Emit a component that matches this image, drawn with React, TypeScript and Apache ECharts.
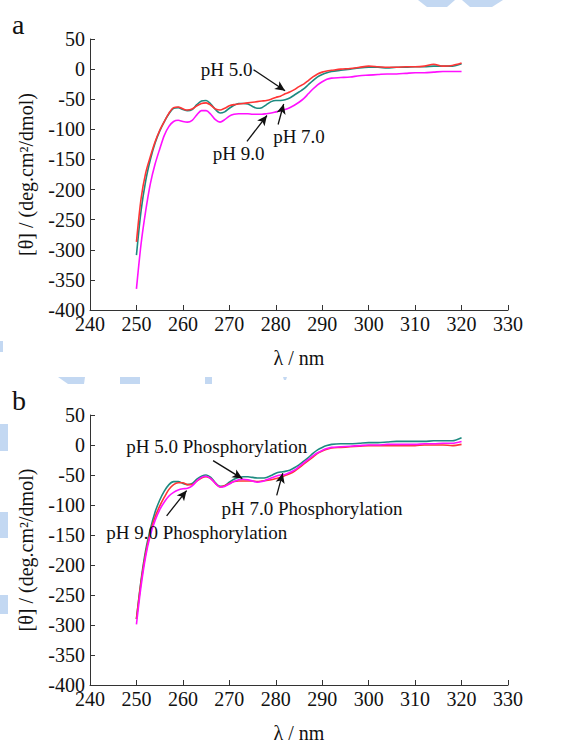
import React, { useEffect, useRef } from "react";
import * as echarts from "echarts";

const wavelengths = [
  250, 251, 252, 253, 254, 255, 256, 257, 258, 259, 260, 261, 262, 263, 264, 265, 266, 267, 268, 269, 270,
  271, 272, 273, 274, 275, 276, 277, 278, 279, 280, 281, 282, 283, 284, 285, 286, 287, 288, 289, 290, 291, 292,
  294, 296, 298, 300, 302, 304, 306, 308, 310, 312, 314, 316, 318, 320,
];

// Panel a
const aPH5 = [
  -287, -215, -172, -145, -121, -102, -87, -73, -64, -63, -66, -68, -66, -61, -57, -56, -60, -66, -68, -65, -61,
  -59, -58, -57, -56, -55, -54, -53, -52, -50, -47, -45, -41, -38, -34, -29, -25, -19, -13, -8, -5, -3, -2,
  0, 1, 3, 5, 4, 3, 3, 4, 4, 5, 8, 5, 6, 10,
];
const aPH7 = [
  -309, -235, -185, -150, -123, -103, -87, -74, -65, -64, -67, -69, -67, -59, -53, -52, -58, -67, -73, -71, -65,
  -60, -57, -57, -58, -62, -65, -64, -59, -54, -52, -52, -51, -48, -43, -38, -33, -26, -19, -13, -9, -6, -4,
  -2, 0, 2, 3, 3, 2, 3, 3, 4, 4, 5, 5, 5, 9,
];
const aPH9 = [
  -365, -290, -235, -190, -158, -133, -110, -95, -87, -85, -87, -88, -85, -76, -69, -69, -75, -84, -88, -84, -78,
  -75, -74, -74, -74, -75, -75, -75, -74, -73, -71, -69, -67, -64, -60, -55, -49, -41, -33, -26, -21, -17, -15,
  -14, -13, -11, -10, -9, -8, -8, -7, -6, -6, -5, -4, -4, -4,
];

// Panel b
const bPH5 = [
  -290, -228, -180, -145, -120, -102, -87, -74, -66, -63, -63, -66, -66, -60, -55, -53, -56, -64, -70, -68, -64,
  -61, -60, -60, -60, -60, -61, -60, -59, -58, -56, -54, -51, -48, -44, -38, -32, -26, -20, -14, -10, -7, -5,
  -4, -3, -2, -1, -1, -1, -1, -1, -1, 0, 0, 0, -1, 1,
];
const bPH7 = [
  -290, -225, -175, -140, -112, -92, -77, -66, -61, -61, -64, -66, -64, -57, -52, -50, -54, -63, -69, -68, -62,
  -57, -54, -53, -53, -54, -55, -55, -54, -51, -47, -45, -44, -42, -38, -33, -27, -21, -14, -8, -4, -1, 1,
  2, 2, 3, 4, 4, 5, 6, 6, 6, 6, 7, 7, 7, 12,
];
const bPH9 = [
  -299, -235, -185, -150, -126, -108, -95, -85, -79, -75, -73, -72, -68, -60, -54, -52, -56, -64, -70, -69, -65,
  -61, -58, -57, -58, -60, -62, -61, -58, -55, -52, -50, -49, -46, -42, -36, -30, -24, -18, -13, -9, -6, -4,
  -3, -2, -1, 0, 0, 1, 1, 1, 1, 2, 2, 3, 3, 6,
];

const xTicks = { min: 240, max: 330, interval: 10 };
const yTicks = { min: -400, max: 50, interval: 50 };

// annotations: [text, textX, textY, arrowFromX, arrowFromY, arrowToX, arrowToY]
const aNotes: [string, number, number, number, number, number, number][] = [
  ["pH 5.0", 269.4, -1, 275.2, -1, 282.0, -36],
  ["pH 7.0", 285.0, -112, 280.5, -92, 281.7, -58],
  ["pH 9.0", 272.0, -140, 273.8, -120, 278.1, -77],
];
const bNotes: [string, number, number, number, number, number, number][] = [
  ["pH 5.0 Phosphorylation", 267.3, -2, 266.5, -26, 272.8, -56],
  ["pH 7.0 Phosphorylation", 287.8, -105, 280.2, -84, 281.5, -47],
  ["pH 9.0 Phosphorylation", 263.0, -145, 256.5, -118, 260.8, -76],
];

const FONT = "Liberation Serif";
const RED = "#ff3535";
const TEAL = "#1d8a80";
const MAGENTA = "#ff10ff";
const WM = "#c3d8f2";

export default function App() {
  const ref = useRef<HTMLDivElement>(null);
  useEffect(() => {
    if (!ref.current) return;
    const chart = echarts.init(ref.current, undefined, { renderer: "svg" });

    const grids = [
      { left: 90, top: 39, width: 418, height: 271 },
      { left: 90, top: 415, width: 418, height: 271 },
    ];

    const xAxes = grids.map((_, i) => ({
      type: "value",
      gridIndex: i,
      ...xTicks,
      name: "λ / nm",
      nameLocation: "middle",
      nameGap: 38,
      nameTextStyle: { fontFamily: FONT, fontSize: 20, color: "#111" },
      axisLine: { show: true, onZero: false, lineStyle: { color: "#333", width: 1 } },
      axisTick: { show: true, inside: true, length: 5, lineStyle: { color: "#333" } },
      axisLabel: { fontFamily: FONT, fontSize: 20, color: "#111", margin: 4 },
      splitLine: { show: false },
    }));
    const yAxes = grids.map((_, i) => ({
      type: "value",
      gridIndex: i,
      ...yTicks,
      name: "[θ] / (deg.cm²/dmol)",
      nameLocation: "middle",
      nameGap: 54,
      nameTextStyle: { fontFamily: FONT, fontSize: 20, color: "#111" },
      axisLine: { show: true, onZero: false, lineStyle: { color: "#333", width: 1 } },
      axisTick: { show: true, inside: true, length: 5, lineStyle: { color: "#333" } },
      axisLabel: { fontFamily: FONT, fontSize: 20, color: "#111", margin: 5 },
      splitLine: { show: false },
    }));

    const mk = (vals: number[]) => wavelengths.map((w, i) => [w, vals[i]]);

    const noteParts = (notes: typeof aNotes) => ({
      markLine: {
        silent: true,
        symbol: ["none", "arrow"],
        symbolSize: [7, 10],
        lineStyle: { color: "#111", width: 1.3, type: "solid" },
        label: { show: false },
        data: notes.map((n) => [{ coord: [n[3], n[4]] }, { coord: [n[5], n[6]] }]),
      },
      markPoint: {
        silent: true,
        symbol: "circle",
        symbolSize: 1,
        itemStyle: { color: "rgba(0,0,0,0)" },
        label: {
          show: true,
          position: "inside",
          fontFamily: FONT,
          fontSize: 19,
          color: "#111",
          formatter: (p: any) => p.name,
        },
        data: notes.map((n) => ({ name: n[0], coord: [n[1], n[2]] })),
      },
    });

    const line = (name: string, vals: number[], color: string, gi: number, extra: any = {}) => ({
      type: "line",
      name,
      xAxisIndex: gi,
      yAxisIndex: gi,
      data: mk(vals),
      showSymbol: false,
      smooth: 0.3,
      lineStyle: { color, width: 1.6 },
      itemStyle: { color },
      z: 2,
      ...extra,
    });

    const wmPoly = (points: number[][]) => ({
      type: "polygon",
      shape: { points },
      style: { fill: WM },
      silent: true,
      z: -10,
    });

    chart.setOption({
      animation: false,
      backgroundColor: "#fff",
      grid: grids,
      xAxis: xAxes,
      yAxis: yAxes,
      series: [
        line("pH 7.0", aPH7, TEAL, 0),
        line("pH 5.0", aPH5, RED, 0),
        line("pH 9.0", aPH9, MAGENTA, 0, noteParts(aNotes)),
        line("pH 7.0 Phosphorylation", bPH7, TEAL, 1),
        line("pH 5.0 Phosphorylation", bPH5, RED, 1),
        line("pH 9.0 Phosphorylation", bPH9, MAGENTA, 1, noteParts(bNotes)),
      ],
      graphic: [
        wmPoly([[418, 0], [455, 0], [447, 7], [427, 7]]),
        wmPoly([[462, 0], [503, 0], [492, 7], [470, 7]]),
        wmPoly([[58, 377], [85, 377], [84, 384], [68, 384]]),
        wmPoly([[120, 377], [140, 377], [140, 384], [120, 384]]),
        wmPoly([[205, 377], [212, 377], [212, 384], [205, 384]]),
        wmPoly([[283, 377], [287, 377], [286, 380], [284, 380]]),
        wmPoly([[0, 341], [3, 341], [3, 352], [0, 352]]),
        wmPoly([[0, 424], [8, 424], [8, 451], [0, 451]]),
        wmPoly([[0, 512], [8, 512], [8, 538], [0, 538]]),
        wmPoly([[0, 595], [8, 595], [8, 614], [0, 614]]),
        {
          type: "text",
          left: 12,
          top: 10,
          style: { text: "a", font: `28px ${FONT}`, fill: "#111" },
        },
        {
          type: "text",
          left: 12,
          top: 386,
          style: { text: "b", font: `28px ${FONT}`, fill: "#111" },
        },
      ],
    });

    return () => chart.dispose();
  }, []);

  return (
    <div
      ref={ref}
      style={{ position: "absolute", left: 0, top: 0, width: 576, height: 744, background: "#fff" }}
    />
  );
}
